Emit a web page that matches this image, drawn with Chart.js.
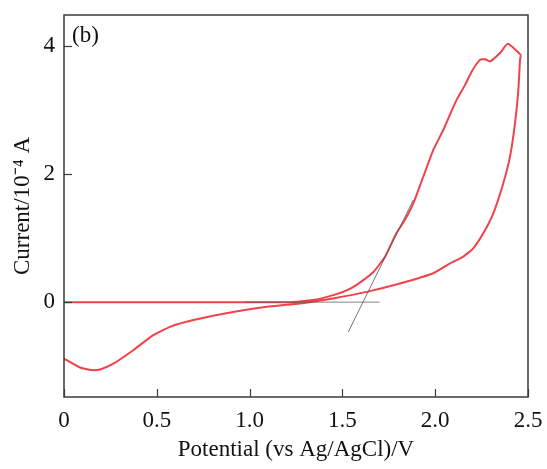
<!DOCTYPE html>
<html>
<head>
<meta charset="utf-8">
<script src="https://cdn.jsdelivr.net/npm/chart.js@4"></script>
<style>
html,body{margin:0;padding:0;background:#fff;}
#wrap{width:547px;height:469px;}
</style>
</head>
<body>
<div id="wrap"><canvas id="c" width="547" height="469"></canvas></div>
<script>
// Cyclic voltammogram: forward (anodic) scan then reverse scan
const potentialV = [0, 0.5, 1.0, 1.22, 1.27, 1.36, 1.451, 1.52, 1.577, 1.667, 1.73, 1.79, 1.84, 1.882, 1.936, 1.99, 2.044, 2.08, 2.116, 2.161, 2.197, 2.241, 2.268, 2.295, 2.349, 2.391, 2.46,
                    2.457, 2.448, 2.43, 2.403, 2.367, 2.313, 2.259, 2.205, 2.151, 2.08, 1.99, 1.81, 1.631, 1.449, 1.272, 1.092, 0.911, 0.697, 0.571, 0.481, 0.373, 0.266, 0.194, 0.149, 0.086, 0];
const current = [0, 0, 0, 0, 0.01, 0.04, 0.11, 0.18, 0.27, 0.47, 0.71, 1.07, 1.3, 1.54, 1.96, 2.375, 2.69, 2.93, 3.16, 3.39, 3.6, 3.78, 3.79, 3.755, 3.886, 4.03, 3.86,
                 3.78, 3.31, 2.79, 2.27, 1.855, 1.386, 1.073, 0.84, 0.71, 0.605, 0.45, 0.29, 0.16, 0.058, -0.02, -0.073, -0.155, -0.28, -0.386, -0.516, -0.75, -0.96, -1.05, -1.06, -1.02, -0.88];
// Onset tangent lines
const baselineV = [0.975, 1.70];
const baselineI = [0, 0];
const tangentV = [1.532, 1.882];
const tangentI = [-0.464, 1.594];
// Axes
const xTicks = [0, 0.5, 1.0, 1.5, 2.0, 2.5];
const xTickLabels = ["0", "0.5", "1.0", "1.5", "2.0", "2.5"];
const yTicks = [0, 2, 4];
const yTickLabels = ["0", "2", "4"];
const panelLabel = "(b)";

const toXY = (xs, ys) => xs.map((x, i) => ({x: x, y: ys[i]}));
const FONT = "'Liberation Serif', 'Times New Roman', serif";
const FS = 23;

const framePlugin = {
  id: 'frame',
  afterDatasetsDraw(chart) {
    const ctx = chart.ctx, a = chart.chartArea;
    const xs = chart.scales.x, ys = chart.scales.y;
    ctx.save();
    ctx.strokeStyle = '#3a3a3a';
    ctx.lineWidth = 1.5;
    ctx.strokeRect(a.left, a.top, a.right - a.left, a.bottom - a.top);
    ctx.lineWidth = 1.2;
    xTicks.forEach(v => {
      const px = Math.round(xs.getPixelForValue(v)) + 0.5;
      ctx.beginPath(); ctx.moveTo(px, a.bottom); ctx.lineTo(px, a.bottom - 8); ctx.stroke();
    });
    yTicks.forEach(v => {
      const py = Math.round(ys.getPixelForValue(v)) + 0.5;
      ctx.beginPath(); ctx.moveTo(a.left, py); ctx.lineTo(a.left + 8, py); ctx.stroke();
    });
    ctx.fillStyle = '#111';
    ctx.font = FS + "px " + FONT;
    ctx.textAlign = 'left';
    ctx.textBaseline = 'alphabetic';
    ctx.fillText(panelLabel, a.left + 8, a.top + 27);
    ctx.restore();
  }
};

new Chart(document.getElementById('c'), {
  type: 'scatter',
  data: {
    datasets: [
      {data: toXY(tangentV, tangentI), showLine: true, borderColor: 'rgba(90,90,90,0.85)', borderWidth: 1, pointRadius: 0, tension: 0},
      {data: toXY(baselineV, baselineI), showLine: true, borderColor: 'rgba(90,90,90,0.75)', borderWidth: 1, pointRadius: 0, tension: 0},
      {data: toXY(potentialV, current), showLine: true, borderColor: '#ef4249', borderWidth: 2, pointRadius: 0, tension: 0.15}
    ]
  },
  options: {
    responsive: false,
    animation: false,
    layout: {padding: {top: 15, right: 19, left: 0, bottom: 0}},
    plugins: {legend: {display: false}, tooltip: {enabled: false}},
    scales: {
      x: {
        type: 'linear', min: 0, max: 2.5,
        afterFit: s => { s.height = 72; s.paddingLeft = 0; s.paddingRight = 0; },
        afterBuildTicks: s => { s.ticks = xTicks.map(v => ({value: v})); },
        grid: {display: false, drawTicks: false},
        border: {display: false},
        ticks: {padding: 10, color: '#111', font: {family: FONT, size: FS},
                callback: (v) => { const i = xTicks.indexOf(v); return i >= 0 ? xTickLabels[i] : ''; },
                maxRotation: 0, autoSkip: false},
        title: {display: true, text: 'Potential (vs Ag/AgCl)/V', color: '#111', font: {family: FONT, size: FS}, padding: {top: 0, bottom: 5}}
      },
      y: {
        type: 'linear', min: -1.48, max: 4.48,
        afterFit: s => { s.width = 64; s.paddingTop = 0; s.paddingBottom = 0; },
        afterBuildTicks: s => { s.ticks = yTicks.map(v => ({value: v})); },
        grid: {display: false, drawTicks: false},
        border: {display: false},
        ticks: {padding: 9, color: '#111', font: {family: FONT, size: FS},
                callback: (v) => { const i = yTicks.indexOf(v); return i >= 0 ? yTickLabels[i] : ''; },
                autoSkip: false},
        title: {display: true, text: 'Current/10\u207B\u2074 A', color: '#111', font: {family: FONT, size: FS}, padding: {top: 9, bottom: 0}}
      }
    }
  },
  plugins: [framePlugin]
});
</script>
</body>
</html>
